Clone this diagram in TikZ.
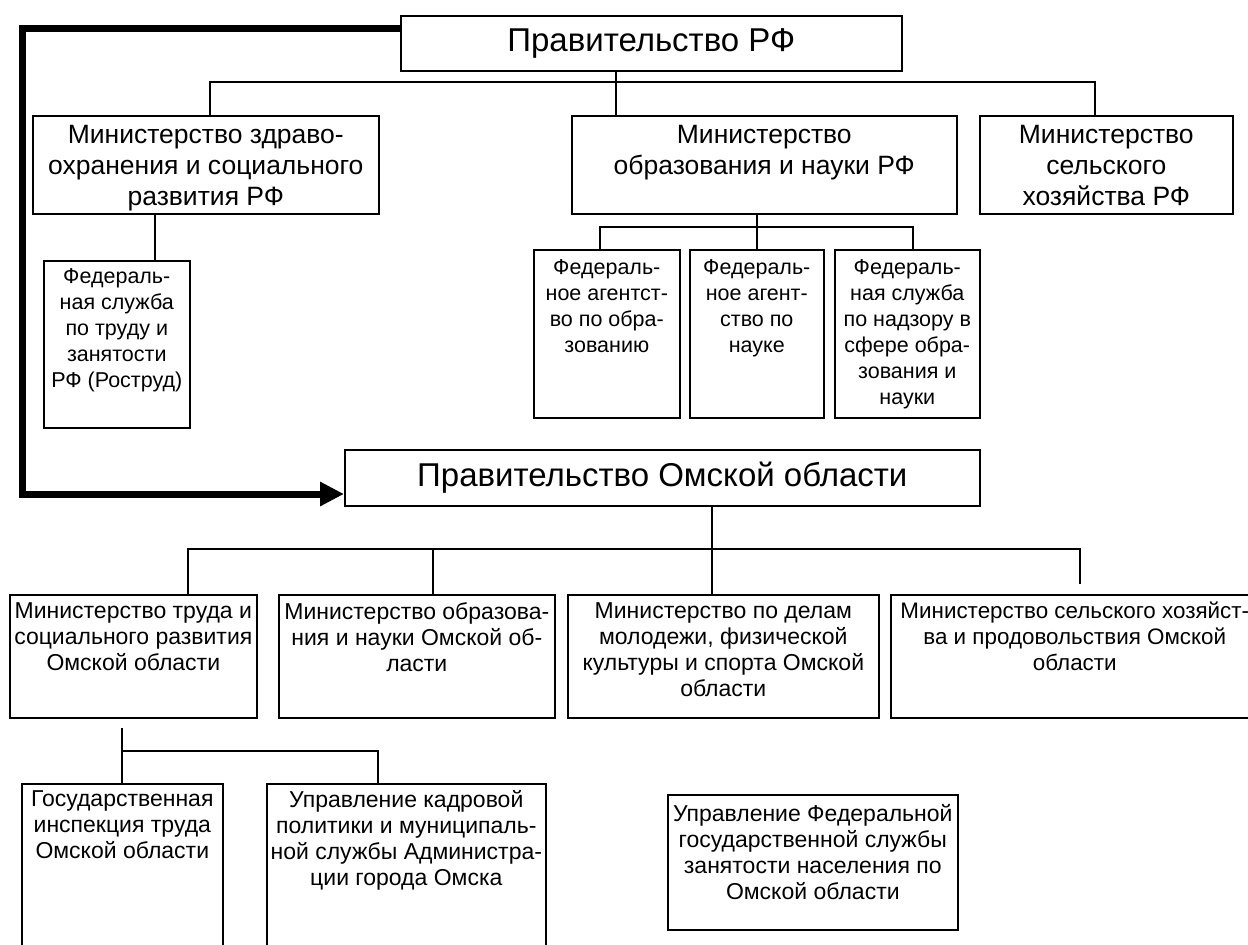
\documentclass[tikz,border=0pt]{standalone}
\usepackage{fontspec}
\setmainfont{Liberation Sans}
\usetikzlibrary{arrows.meta,calc}
\newcommand{\ftitle}{\fontsize{33}{38}\selectfont}
\newcommand{\fmin}{\fontsize{26.5}{31}\selectfont}
\newcommand{\fsmall}{\fontsize{21.5}{26}\selectfont}
\newcommand{\fbot}{\fontsize{23}{26}\selectfont}
\newcommand{\fbotd}{\fontsize{22.4}{26}\selectfont}
\begin{document}
\begin{tikzpicture}[x=1pt,y=-1pt,
  box/.style={draw, line width=1.6pt, inner sep=0pt, anchor=north west},
  txt/.style={anchor=north, align=center, inner sep=0pt},
  conn/.style={line width=1.6pt},
  thick/.style={line width=7pt, line join=miter, -{Triangle[length=24pt,width=23pt]}}]
\clip (0,0) rectangle (1248,945);
\fill[white] (0,0) rectangle (1248,945);
% federal level
\node[box, minimum width=501pt, minimum height=55pt] (rf) at (400,15) {};
\node[font=\ftitle, inner sep=0pt] (rft) at (rf.center) {Правительство РФ};
\node[box, minimum width=346pt, minimum height=98pt] (mh) at (32,115) {};
\node[txt, font=\fmin] (mht) at ($(mh.north)+(0,10)$) {Министерство здраво-\\охранения и социального\\развития РФ};
\node[box, minimum width=385pt, minimum height=98pt] (me) at (571,115) {};
\node[txt, font=\fmin] (met) at ($(me.north)+(0,10)$) {Министерство\\образования и науки РФ};
\node[box, minimum width=253pt, minimum height=98pt] (ma) at (979,115) {};
\node[txt, font=\fmin] (mat) at ($(ma.north)+(0,10)$) {Министерство\\сельского\\хозяйства РФ};
\node[box, minimum width=146pt, minimum height=167pt] (rt) at (43,260) {};
\node[txt, font=\fsmall] (rtt) at ($(rt.north)+(0,8)$) {Федераль-\\ная служба\\по труду и\\занятости\\РФ (Роструд)};
\node[box, minimum width=146pt, minimum height=168pt] (f1) at (533,249) {};
\node[txt, font=\fsmall] (f1t) at ($(f1.north)+(0,10)$) {Федераль-\\ное агентст-\\во по обра-\\зованию};
\node[box, minimum width=134pt, minimum height=168pt] (f2) at (689,249) {};
\node[txt, font=\fsmall] (f2t) at ($(f2.north)+(0,10)$) {Федераль-\\ное агент-\\ство по\\науке};
\node[box, minimum width=145pt, minimum height=168pt] (f3) at (834,249) {};
\node[txt, font=\fsmall] (f3t) at ($(f3.north)+(0,10)$) {Федераль-\\ная служба\\по надзору в\\сфере обра-\\зования и\\науки};
% regional level
\node[box, minimum width=635pt, minimum height=56pt] (om) at (344,449) {};
\node[font=\ftitle, inner sep=0pt] (omt) at (om.center) {Правительство Омской области};
\node[box, minimum width=247pt, minimum height=123pt] (ba) at (9,594) {};
\node[txt, font=\fbot] (bat) at ($(ba.north)+(0,8)$) {Министерство труда и\\социального развития\\Омской области};
\node[box, minimum width=276pt, minimum height=123pt] (bb) at (278,594) {};
\node[txt, font=\fbot] (bbt) at ($(bb.north)+(0,8)$) {Министерство образова-\\ния и науки Омской об-\\ласти};
\node[box, minimum width=311pt, minimum height=123pt] (bc) at (567,594) {};
\node[txt, font=\fbot] (bct) at ($(bc.north)+(0,8)$) {Министерство по делам\\молодежи, физической\\культуры и спорта Омской\\области};
\node[box, minimum width=370pt, minimum height=123pt] (bd) at (890,594) {};
\node[txt, font=\fbotd] (bdt) at ($(bd.north)+(-1,8)$) {Министерство сельского хозяйст-\\ва и продовольствия Омской\\области};
\node[box, minimum width=201pt, minimum height=180pt] (be) at (21,783) {};
\node[txt, font=\fbot] (bet) at ($(be.north)+(0,7)$) {Государственная\\инспекция труда\\Омской области};
\node[box, minimum width=279pt, minimum height=180pt] (bf) at (266,783) {};
\node[txt, font=\fbot] (bft) at ($(bf.north)+(0,7)$) {Управление кадровой\\политики и муниципаль-\\ной службы Администра-\\ции города Омска};
\node[box, minimum width=290pt, minimum height=135pt] (bg) at (667,794) {};
\node[txt, font=\fbot] (bgt) at ($(bg.north)+(0,10)$) {Управление Федеральной\\государственной службы\\занятости населения по\\Омской области};
% connectors
\draw[conn] (rf.south -| 616,0) -- (me.north -| 616,0);
\draw[conn] (mh.north -| 210,0) |- (1095,82) -- (ma.north -| 1095,0);
\draw[conn] (mh.south -| 155,0) -- (rt.north -| 155,0);
\draw[conn] (me.south -| 757,0) -- (f2.north -| 757,0);
\draw[conn] (f1.north -| 600,0) |- (913,227) -- (f3.north -| 913,0);
\draw[conn] (om.south -| 712,0) -- (bc.north -| 712,0);
\coordinate (dend) at (1080,584);
\draw[conn] (ba.north -| 188,0) |- (dend |- 0,549) -- (dend);
\draw[conn] (bb.north -| 433,0) -- (433,549);
\coordinate (subtop) at (122,728);
\draw[conn] (subtop) -- (be.north -| subtop);
\draw[conn] (subtop |- 0,751) -| (bf.north -| 378,0);
\draw[thick] (rf.west |- 0,28) -| (22,494) -- (om.west |- 0,494);
\end{tikzpicture}
\end{document}
